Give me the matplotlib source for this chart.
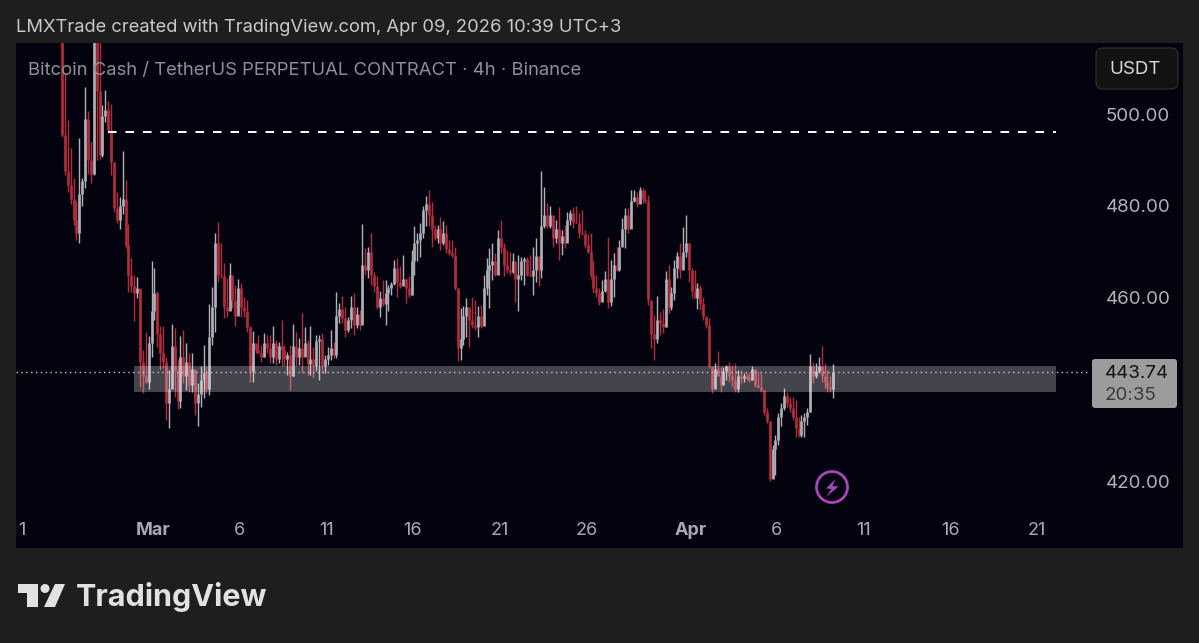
import numpy as np
import matplotlib
matplotlib.use('Agg')
import matplotlib.pyplot as plt
from matplotlib.patches import Rectangle, FancyBboxPatch, Polygon, Circle
from matplotlib.transforms import Affine2D

# 4h candles, oldest first
first_open = 530
highs = [530, 509, 498.7, 492.5, 486, 481, 494.7, 486, 506, 500.7, 494, 516, 530, 530, 502, 505.2, 502.8, 502.3, 489.6, 483, 482, 492,
    485.6, 476, 468.6, 464.9, 464.4, 461.5, 448.6, 452.6, 451.6, 468, 466.4, 461.5, 453.7, 453.7, 447.1, 444.2, 454.2, 453.3, 446.4, 451.6,
    452.9, 450.2, 447.9, 447.9, 442.8, 441.3, 445, 449.7, 445, 458.5, 462.4, 474, 476.5, 471.8, 467.5, 464.2, 467.5, 464.6, 462.7, 464,
    463.1, 460.2, 459.5, 453.7, 452.7, 449.7, 451.9, 449.7, 452.2, 451.9, 451.9, 453.7, 450.8, 450.4, 455.1, 449.7, 448.2, 449.7, 454.2, 452.6,
    451.1, 456.6, 453.5, 450.8, 453.7, 449.3, 451.9, 451.9, 452.2, 447.5, 449.3, 452.9, 450.4, 461.3, 458.8, 460.3, 457.9, 455.8, 460.3, 461.1,
    458, 457.3, 476, 470.7, 471, 474, 465.6, 464.6, 461.5,
    463.9, 463.9, 462.8, 463.5, 468.2, 468.6, 466.8, 469.3, 464.2, 464.6, 470.4, 475.5, 474, 476.2, 480, 482.2, 483.5, 480.9, 475.8, 475.8, 477.5,
    476.8, 475.8, 472.6, 472.6, 471.1, 462, 457.7, 458.1, 459.9, 457.3, 460.2, 459.5, 458.1, 458.4, 465, 468.6, 470.8, 472, 469.7, 474.8, 476.9,
    471.9, 470.4, 470, 469.7, 467.1, 469.3, 468.9, 468.9, 468.9, 469.3, 471, 472.9, 468.9, 487.7, 484, 480.6, 480, 477.7, 476.9, 479.8, 474.8,
    475.8, 478.7, 479.1, 479.8, 480, 478.4, 479.1, 474.8, 473.9, 474, 467.9, 465, 462, 463.9, 465.7, 473.3, 468.2, 469.7, 471.1, 472.6, 477.3,
    479.5, 479.5, 483.5, 483.5, 483.1, 484, 483.8, 483.5, 482.4,
    458.7, 456.2, 460.3, 456.9, 457.6, 465.9, 467.1, 462.4, 468.2, 470, 471.8, 475.3, 478, 471.8, 466.4, 466, 463.2, 462.7, 460.2, 455.8, 455.5,
    444.9, 445.8, 448.4, 444.9, 444.9, 445.3, 446, 445.3, 445.8, 444.2, 444.2, 443.5, 443.6, 443.6, 445.1, 443.1, 443.9, 443.5, 439.8, 435.9, 433,
    427.9, 430.1, 434.8, 437, 440.2, 439.5, 438.4, 438.4, 437.7, 434, 434.4, 434.8, 435.9, 447.8, 446, 445.8, 447.1, 449.5, 445.7, 444.2, 442.8, 445.5]
lows = [495, 486.7, 483, 480.5, 475.8, 472.5, 472, 480, 483.8, 487, 485, 486.7, 490, 490.3, 490.7, 498.3, 496, 486.8, 478.7, 476.2, 475, 478.3,
    470.7, 461.3, 461.3, 454.8, 459.8, 440.6, 439.3, 441.3, 440, 447.1, 455.1, 449.3, 444.2, 444.6, 433.3, 431.5, 440.6, 438.4, 435.7, 435.9,
    441.3, 439.9, 439.5, 439.5, 434.4, 432, 436.2, 438.1, 439.2, 438.8, 449.7, 452.6, 463.5, 464.2, 455.5, 455.8, 457.7, 457.7, 453.8, 456.6,
    455.8, 455.8, 452.6, 441.7, 441.7, 447.9, 447.9, 446, 447.1, 447.9, 445.7, 445.7, 445.3, 445.7, 445, 445, 443.1, 439.9, 442.8, 445,
    445.3, 443.5, 447.9, 443.1, 443.1, 442.4, 443.9, 442, 443.5, 443.5, 445.3, 446.4, 446.8, 446.8, 454.4, 454.4, 451.5, 452.6, 453.3, 451.9,
    453.3, 452.9, 454.8, 464.9, 464.2, 462.7, 461.3, 457.5, 455.8,
    458.1, 454.1, 457, 460.6, 462.8, 460.2, 462, 463.9, 458.8, 460.2, 460.6, 465, 467.9, 468.9, 472.9, 475.5, 475.5, 471.1, 472.6, 471.9, 470.4,
    471.5, 469.7, 469.3, 468.9, 461.7, 446.1, 446.4, 449.7, 451.5, 449.3, 453.3, 453, 451.5, 453.3, 455.2, 460.6, 457.7, 463.9, 464.6, 467.5, 469.7,
    464.6, 465.3, 465, 465.3, 459.1, 457, 463.9, 462.8, 464.6, 464.6, 460.6, 463.5, 462.6, 464.2, 475.1, 475.1, 475.1, 471, 471.9, 468.2, 469.3,
    470.8, 472.6, 475.8, 475.1, 476.2, 472.9, 473.7, 470.8, 469.7, 464.2, 461, 460.2, 458.4, 459.5, 461.3, 457.7, 458.1, 460.2, 465.7, 465.7, 471.9,
    470.8, 474, 477.7, 480.9, 479.8, 480.9, 480.6, 480.6, 458.4,
    448.9, 446.4, 450.2, 451.8, 452.2, 453.5, 456.6, 457.3, 459.5, 464.2, 464.2, 466.7, 468.9, 463.5, 459.8, 459.8, 457.6, 457.3, 455.1, 453.3, 444.6,
    439.1, 440.9, 442.8, 439.5, 440.9, 442, 441.7, 440.6, 439.5, 439.5, 441.3, 441.7, 442, 441.7, 442, 440.6, 440.2, 439.5, 434.4, 432.6, 419.9,
    420.6, 421.4, 427.9, 431.9, 435.5, 436.2, 435.1, 433.3, 429.7, 429.7, 429.7, 429.7, 432.2, 435.1, 441.3, 442.4, 443.5, 441.7, 440.2, 439.5, 439.5, 438]
closes = [495.5, 487.5, 484.5, 481.5, 477, 474, 482.5, 485.5, 499, 490, 487, 518, 505, 491, 499.5, 501, 496.5, 489.6, 479.5, 477, 480, 481.5,
    471.5, 465, 462.5, 461, 462, 446, 443, 441.5, 450, 457, 461, 452, 448, 446, 437, 440, 449.5, 444, 437.5, 447,
    443, 446, 441, 444.5, 437, 439, 442, 443.5, 440, 451.5, 458, 472, 465, 464.6, 458, 457, 465, 459.5, 456, 462,
    458, 457, 453.5, 444, 450, 448.5, 448, 447, 450, 449, 447, 450, 446.5, 449.5, 448.5, 446.5, 447.5, 443, 449.5, 447,
    449, 447, 450, 445.5, 446.5, 445, 450.5, 451, 445, 446.5, 447.5, 449, 447.5, 456, 457.5, 455.5, 453, 455, 458, 454,
    456.5, 454, 467, 466, 470, 465, 462.5, 458, 460,
    458.5, 461, 462, 463, 466.5, 463.5, 462.5, 464, 462, 460.5, 468, 472, 472.5, 474, 479, 480.5, 478, 475, 473, 475, 472,
    474, 470.5, 469.8, 469.2, 462, 449, 451, 456, 458, 455, 454, 453.5, 456, 453.8, 462, 466, 467, 468, 465, 473, 471,
    467, 466, 465.5, 468, 464, 465, 468, 468.5, 465, 464.8, 466, 469, 466, 475.5, 478, 475.5, 478, 473, 475, 472, 473.5,
    472, 477, 478.5, 476.5, 476.3, 474, 473.9, 471.5, 470, 465, 462, 461, 459, 461.5, 464, 459, 464, 467, 466, 471, 475,
    478, 475, 481, 482, 480.5, 483.5, 481.5, 481, 459.5,
    452, 451, 455, 454.5, 453.5, 464, 458, 461, 466.5, 469, 466, 470, 472, 466, 461.5, 460, 462, 458.5, 456, 454, 445,
    440, 444.5, 443, 441, 444, 445, 443, 442, 440, 443, 442.5, 443, 442.5, 442, 444.5, 441, 440.5, 439.8, 435, 433, 420.5,
    427, 429, 434, 436, 438.5, 437, 436, 434, 431.5, 430, 433, 434, 435, 445, 443, 444, 445, 443, 441.5, 440.5, 440, 443.74]

price_ticks = [420, 460, 480, 500]
price_labels = ['420.00', '460.00', '480.00', '500.00']
day_ticks = [-7.56, 0, 5, 10, 15, 20, 25, 31, 36, 41, 46, 51]
day_labels = ['1', 'Mar', '6', '11', '16', '21', '26', 'Apr', '6', '11', '16', '21']
last_price = 443.74
target_level = 496.2
zone_low, zone_high = 439.4, 445.1

bg = '#1e1e1e'
panel = '#03030f'
up = '#b0b1b7'
down = '#b42b3b'
W, H = 1199, 643

def font(size, **kw):
    return dict(family=['Inter', 'DejaVu Sans'], fontsize=size, **kw)

fig = plt.figure(figsize=(W / 100, H / 100), dpi=100, facecolor=bg)
ax = fig.add_axes([16 / W, 1 - 548 / H, (1183 - 16) / W, (548 - 43) / H], facecolor=panel)
ax.set_xlim((16 - 153) / 17.33, (1183 - 153) / 17.33)
ax.set_ylim(405.4, 515.5)
for s in ax.spines.values():
    s.set_visible(False)

closes_arr = np.array(closes)
opens = np.r_[first_open, closes_arr[:-1]]
x = -5.25 + np.arange(len(closes)) / 6
colors = [up if c >= o else down for o, c in zip(opens, closes_arr)]
ax.vlines(x, lows, highs, colors=colors, lw=1.0, zorder=2)
ax.vlines(x, opens, closes_arr, colors=colors, lw=1.9, zorder=2)

# zone and levels
ax.add_patch(Rectangle((-1.1, zone_low), 53.2, zone_high - zone_low, fc='white', alpha=0.26, lw=0, zorder=3))
ax.plot([-2.6, 52.1], [target_level, target_level], color='white', lw=1.4, dashes=(4.4, 4.6), zorder=4)
ax.plot([(16 - 153) / 17.33, (1087 - 153) / 17.33], [last_price, last_price], color='#c8c8c8', lw=1.0, dashes=(1, 2.5), zorder=4)

ax.yaxis.tick_right()
ax.set_yticks(price_ticks, price_labels, color='#b2b2b8', **font(13.5))
ax.tick_params(axis='y', length=0, pad=-55.5)
ax.set_xticks(day_ticks, day_labels, color='#a8a9b0', **font(13))
ax.tick_params(axis='x', length=0, pad=-18.5)
for lab in ax.get_xticklabels():
    if lab.get_text() in ('Mar', 'Apr'):
        lab.set_fontweight('bold')

# everything below is placed in screen pixels, y down
px = Affine2D().scale(1, -1).translate(0, H)

def txt(xp, yp, s, color, size, ha='left', **kw):
    fig.text(xp / W, 1 - yp / H, s, color=color, ha=ha, va='center', zorder=10, **font(size, **kw))

txt(16, 28, 'LMXTrade created with TradingView.com, Apr 09, 2026 10:39 UTC+3', '#c9c9c9', 13.25)
txt(28, 70.5, 'Bitcoin Cash / TetherUS PERPETUAL CONTRACT · 4h · Binance', '#8e8f99', 13.3)

fig.add_artist(FancyBboxPatch((1100, 52), 74, 33, boxstyle='round,pad=4,rounding_size=7', fc='#131211', ec='#2b2b2b',
    lw=1, transform=px, zorder=9))
txt(1135, 69, 'USDT', '#d8d8d8', 13.5, ha='center')

fig.add_artist(FancyBboxPatch((1094, 361), 81, 45, boxstyle='round,pad=2,rounding_size=3', fc='#9c9c9c', ec='none',
    transform=px, zorder=9))
txt(1105, 373, '443.74', '#121212', 13.5)
txt(1105, 395, '20:35', '#3a3a3a', 13.5)

# lightning badge
purple = '#a845b8'
fig.add_artist(Circle((832, 487), 15.5, fc='none', ec=purple, lw=2.0, transform=px, zorder=9))
fig.add_artist(Polygon([(835.5, 479), (826, 488.5), (831.5, 489), (826, 497), (838.5, 486.5), (832.5, 486)], closed=True,
    fc=purple, ec='none', transform=px, zorder=9))

# TradingView logo
logo = '#e2e2e2'
fig.add_artist(Polygon([(18, 584), (38, 584), (38, 607), (27, 607), (27, 593), (18, 593)], closed=True, fc=logo, ec='none', transform=px))
fig.add_artist(Circle((45, 588.5), 4.5, fc=logo, ec='none', transform=px))
fig.add_artist(Polygon([(55, 584), (65, 584), (55, 607), (44, 607)], closed=True, fc=logo, ec='none', transform=px))
txt(76, 597, 'TradingView', logo, 22, fontweight='bold')

fig.savefig('out.png', dpi=100, facecolor=bg)
